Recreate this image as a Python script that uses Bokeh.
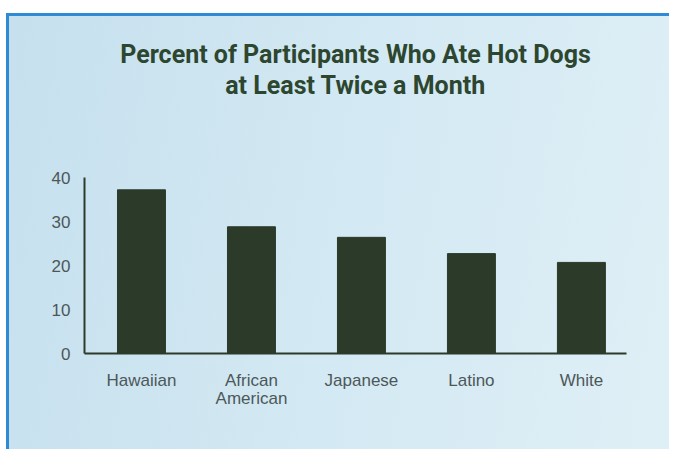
from bokeh.plotting import figure
from bokeh.models import Range1d, FixedTicker, Title
from bokeh.embed import file_html
from bokeh.resources import INLINE

categories = ["Hawaiian", "African American", "Japanese", "Latino", "White"]
percent = [37.2, 28.8, 26.4, 22.7, 20.7]
y_ticks = [0, 10, 20, 30, 40]
title_lines = ["Percent of Participants Who Ate Hot Dogs", "at Least Twice a Month"]

BAR = "#2c3a2a"
AXIS = "#2c3a2a"
LABEL = "#4d5759"
TITLE = "#2d4630"

idx = list(range(len(categories)))

p = figure(width=663, height=436, output_backend="svg", toolbar_location=None,
           x_range=Range1d(-0.518, 4.41), y_range=Range1d(0, 40),
           min_border_left=75, min_border_right=46, min_border_top=161,
           min_border_bottom=99)
p.styles = {"margin-top": "13px", "margin-left": "6px",
            "border-top": "3px solid #2f8ad6", "border-left": "3px solid #2f8ad6",
            "background": "linear-gradient(100deg, #c6e0ee 0%, #d3e9f3 50%, #dfeff6 100%)"}

p.background_fill_color = None
p.border_fill_color = None
p.outline_line_color = None
p.grid.grid_line_color = None

p.vbar(x=idx, top=percent, bottom=0, width=0.436, color=BAR)

# blank spacer title keeps the heading clear of the frame
p.add_layout(Title(text=" ", text_font_size="1px", standoff=75, offset=0), "above")
for line in reversed(title_lines):
    t = Title(text=line, align="center", text_font="Roboto",
              text_font_style="bold", text_font_size="25px", text_color=TITLE,
              standoff=0, offset=0)
    p.add_layout(t, "above")

p.xaxis.ticker = FixedTicker(ticks=idx)
p.xaxis.major_label_overrides = {i: c.replace(" ", "\n") for i, c in zip(idx, categories)}
p.yaxis.ticker = FixedTicker(ticks=y_ticks)

for ax in (p.xaxis, p.yaxis):
    ax.axis_line_color = AXIS
    ax.axis_line_width = 2
    ax.major_tick_line_color = None
    ax.minor_tick_line_color = None
    ax.major_label_text_font = "Liberation Sans"
    ax.major_label_text_color = LABEL

p.xaxis.major_label_text_font_size = "17px"
p.xaxis.major_label_text_line_height = 0.95
p.yaxis.major_label_text_font_size = "17px"
p.xaxis.major_label_standoff = 11
p.yaxis.major_label_standoff = 8

open("out.html", "w").write(file_html(p, INLINE))
